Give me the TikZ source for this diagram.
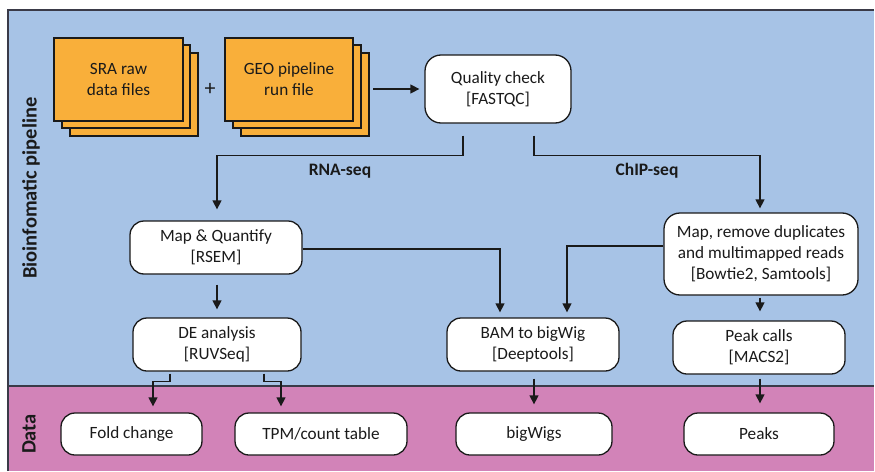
\documentclass[tikz,border=0pt]{standalone}
\usepackage{fontspec}
\setmainfont{Carlito}
\usetikzlibrary{arrows.meta,calc}
\definecolor{bgblue}{HTML}{A7C3E6}
\definecolor{bgpink}{HTML}{D283B8}
\definecolor{fileorange}{HTML}{F9AF3A}
\definecolor{ink}{HTML}{1A1A1A}
\definecolor{edge}{HTML}{3A3A48}
\tikzset{
  box/.style={draw=ink, line width=1.3pt, fill=white, rounded corners=14pt, align=center,
    text=ink, font=\fontsize{17.2}{21}\selectfont, inner sep=0pt},
  filebox/.style={draw=ink, line width=1.2pt, fill=fileorange},
  arr/.style={draw=ink, line width=1.4pt, -{Triangle[length=9pt,width=9pt]}},
  lbl/.style={text=ink, font=\fontsize{17.5}{20}\selectfont\bfseries},
  side/.style={text=ink, font=\fontsize{20.5}{23}\selectfont\bfseries, rotate=90}
}
\begin{document}
\begin{tikzpicture}[x=1pt,y=-1pt]
\useasboundingbox (0,0) rectangle (875,471);
% background bands
\fill[bgblue] (8,10) rectangle (874,386);
\fill[bgpink] (8,386) rectangle (874,471);
\draw[edge, line width=1.2pt] (8,471) -- (8,10) -- (874,10);
\draw[edge, line width=1.2pt] (8,386) -- (874,386);
\node[side] (lpipe) at (31,188) {Bioinfomatic pipeline};
\node[side] (ldata) at (29,434) {Data};

% stacked input files
\draw[filebox] (70,53) rectangle (198,136);
\draw[filebox] (62,45) rectangle (190,128);
\node[filebox, box, rounded corners=0pt, minimum width=129pt, minimum height=83pt, fill=fileorange] (sra) at (118.5,79.5) {SRA raw\\data files};
\draw[filebox] (241,53) rectangle (369,136);
\draw[filebox] (233,45) rectangle (361,128);
\node[filebox, box, rounded corners=0pt, minimum width=128pt, minimum height=83pt, fill=fileorange] (geo) at (289,79.5) {GEO pipeline\\run file};
\node[text=ink, font=\fontsize{22}{24}\selectfont] (plus) at (210,89) {+};

% process boxes
\node[box, minimum width=146pt, minimum height=68pt, rounded corners=16pt] (qc) at (498,89) {Quality check\\{[FASTQC]}};
\node[box, minimum width=172pt, minimum height=53pt] (mapq) at (216,247.5) {Map \& Quantify\\{[RSEM]}};
\node[box, minimum width=168pt, minimum height=53pt] (de) at (217,344.5) {DE analysis\\{[RUVSeq]}};
\node[box, minimum width=194pt, minimum height=82pt, rounded corners=16pt] (maprm) at (761,254) {Map, remove duplicates\\and multimapped reads\\{[Bowtie2, Samtools]}};
\node[box, minimum width=172pt, minimum height=53pt] (bam) at (533,344.5) {BAM to bigWig\\{[Deeptools]}};
\node[box, minimum width=172pt, minimum height=53pt] (peak) at (759,347.5) {Peak calls\\{[MACS2]}};

% data boxes
\node[box, minimum width=141pt, minimum height=42pt] (fold) at (131.5,434) {Fold change};
\node[box, minimum width=172pt, minimum height=42pt] (tpm) at (321,434) {TPM/count table};
\node[box, minimum width=156pt, minimum height=42pt] (bigw) at (534,434) {bigWigs};
\node[box, minimum width=150pt, minimum height=42pt] (peaks) at (759,434) {Peaks};

% labels
\node[lbl] (rna) at (340,171) {RNA-seq};
\node[lbl] (chip) at (647,171) {ChIP-seq};

% connectors
\coordinate (geoend) at (373,89);
\draw[arr] (geoend) -- ([xshift=-5pt]qc.west);
\draw[arr] ([xshift=-35pt,yshift=-12pt]qc.south) -- ++(0,20) -| ([xshift=1pt,yshift=11pt]mapq.north);
\draw[arr] ([xshift=36pt,yshift=-12pt]qc.south) -- ++(0,20) -| ([xshift=-1pt,yshift=4pt]maprm.north);
\draw[arr] ([yshift=-1.5pt]mapq.east) -| ([xshift=-33pt,yshift=5pt]bam.north);
\draw[arr] ([yshift=8pt]maprm.west) -| ([xshift=34pt,yshift=5pt]bam.north);
\draw[arr] ([xshift=1pt,yshift=-10pt]mapq.south) -- ([yshift=8pt]de.north);
\draw[arr] ([xshift=-47pt,yshift=-2pt]de.south) -- ++(0,8) -| ([xshift=21.5pt,yshift=6pt]fold.north);
\draw[arr] ([xshift=47pt,yshift=-2pt]de.south) -- ++(0,8) -| ([xshift=-40pt,yshift=6pt]tpm.north);
\draw[arr] ([xshift=-1pt,yshift=-2pt]maprm.south) -- ([xshift=1pt,yshift=9pt]peak.north);
\draw[arr] ([xshift=1pt,yshift=-7pt]bam.south) -- ([yshift=8pt]bigw.north);
\draw[arr] ([xshift=1pt,yshift=-4pt]peak.south) -- ([xshift=1pt,yshift=9pt]peaks.north);
\end{tikzpicture}
\end{document}
